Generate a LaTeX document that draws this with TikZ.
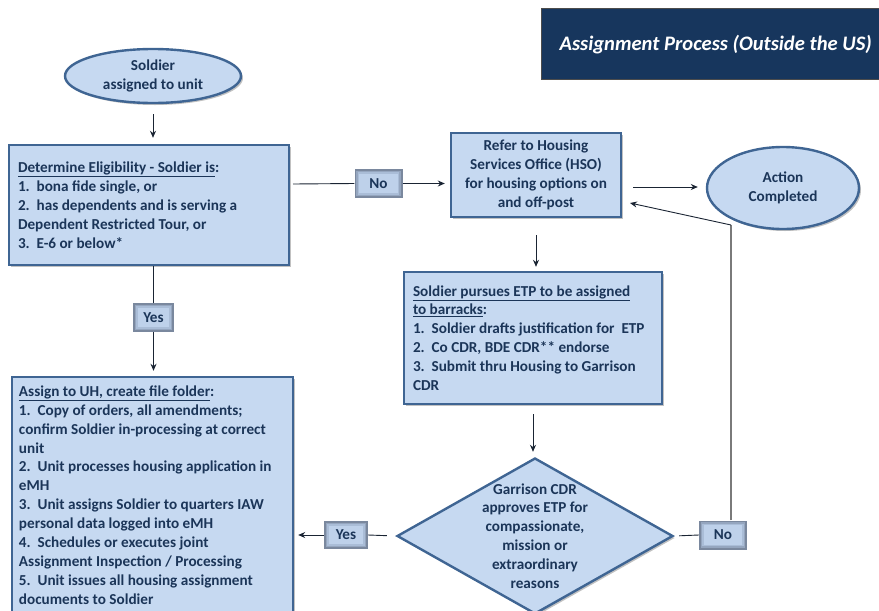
\documentclass[tikz,border=0pt]{standalone}
\usepackage{fontspec}
\setmainfont{Carlito}
\usetikzlibrary{arrows.meta,shapes.geometric,shadows}

\definecolor{boxfill}{HTML}{C6D9F1}
\definecolor{boxline}{HTML}{3F6593}
\definecolor{inktext}{HTML}{1B3558}
\definecolor{tagedge}{HTML}{7A889E}
\definecolor{tagmid}{HTML}{95A6BF}
\definecolor{tagsoft}{HTML}{AABDD7}
\definecolor{tagcore}{HTML}{BED1EA}
\definecolor{titlefill}{HTML}{17365D}
\definecolor{wire}{HTML}{1A2433}
\definecolor{greywire}{HTML}{7A7A7A}

\tikzset{
  txt/.style={font=\fontsize{15.2}{18.9}\selectfont\bfseries, text=inktext},
  shade/.style={drop shadow={shadow xshift=2pt, shadow yshift=-2pt,
    opacity=0.35, fill=black!70}},
  flowbox/.style={txt, draw=boxline, line width=2.4pt, fill=boxfill, shade,
    rectangle, inner sep=0pt},
  listtext/.style={txt, align=left, anchor=west, inner sep=0pt},
  oval/.style={txt, draw=boxline, line width=2.4pt, fill=boxfill, ellipse, shade,
    inner sep=0pt, align=center},
  tag/.style={txt, fill=tagedge, rectangle, inner sep=0pt,
    minimum width=46pt, minimum height=28pt,
    path picture={
      \foreach \d/\c in {1.6/tagmid, 3.2/tagsoft, 4.8/tagcore}
        \fill[\c] ([shift={(\d pt,-\d pt)}]path picture bounding box.north west)
          rectangle ([shift={(-\d pt,\d pt)}]path picture bounding box.south east);
    }},
  arr/.style={draw=wire, line width=0.9pt, -{Stealth[length=7pt,width=6pt]}},
  plain/.style={draw=wire, line width=0.9pt},
}

\begin{document}
\begin{tikzpicture}[x=1pt, y=-1pt]
\useasboundingbox (0,0) rectangle (879,611);
\clip (0,0) rectangle (879,611);

% title banner
\node[draw=black!70, line width=0.8pt, fill=titlefill, minimum width=350pt,
      minimum height=71pt, anchor=north west, inner sep=0pt] (title) at (541,8) {};
\node[font=\fontsize{20.6}{24}\selectfont\bfseries\itshape, text=white, anchor=west]
      (titletext) at (556,45) {Assignment Process (Outside the US)};

% start and end ovals
\node[oval, minimum width=176pt, minimum height=54pt] (sold) at (153,76)
      {Soldier\\assigned to unit};
\node[oval, minimum width=152pt, minimum height=82pt] (act) at (783,188)
      {Action\\Completed};

% eligibility check
\node[flowbox, minimum width=280pt, minimum height=120pt] (det) at (149,205) {};
\node[listtext] (dettext) at ([xshift=10pt]det.west)
      {\underline{Determine Eligibility - Soldier is}:\\
       1.\ \ bona fide single, or\\
       2.\ \ has dependents and is serving a\\
       Dependent Restricted Tour, or\\
       3.\ \ E-6 or below*};

% housing services office
\node[flowbox, minimum width=170pt, minimum height=84pt, align=center] (hso) at (536,175)
      {Refer to Housing\\Services Office (HSO)\\for housing options on\\and off-post};

% exception to policy
\node[flowbox, minimum width=258pt, minimum height=132pt] (etp) at (533,338) {};
\node[listtext] (etptext) at ([xshift=10pt]etp.west)
      {\underline{Soldier pursues ETP to be assigned}\\
       \underline{to barracks}:\\
       1.\ \ Soldier drafts justification for\ \ ETP\\
       2.\ \ Co CDR, BDE CDR** endorse\\
       3.\ \ Submit thru Housing to Garrison\\
       CDR};

% unaccompanied housing assignment
\node[flowbox, minimum width=281pt, minimum height=236pt] (asg) at (152.5,495) {};
\node[listtext] (asgtext) at ([xshift=8pt]asg.west)
      {\underline{Assign to UH, create file folder}:\\
       1.\ \ Copy of orders, all amendments;\\
       confirm Soldier in-processing at correct\\
       unit\\
       2.\ \ Unit processes housing application in\\
       eMH\\
       3.\ \ Unit assigns Soldier to quarters IAW\\
       personal data logged into eMH\\
       4.\ \ Schedules or executes joint\\
       Assignment Inspection / Processing\\
       5.\ \ Unit issues all housing assignment\\
       documents to Soldier};

% garrison commander decision
\node[diamond, draw=boxline, line width=2.4pt, fill=boxfill, inner sep=0pt,
      minimum width=276pt, minimum height=156pt, shade] (gar) at (535,536) {};
\node[txt, align=center] (gartext) at (gar.center)
      {Garrison CDR\\approves ETP for\\compassionate,\\mission or\\extraordinary\\reasons};

% yes / no tags
\node[tag, minimum width=48pt, minimum height=29pt] (no1) at (378.5,183.5) {No};
\node[tag, minimum width=41pt, minimum height=29pt] (yes1) at (153.5,317.5) {Yes};
\node[tag, minimum width=44pt, minimum height=28pt] (yes2) at (346,535) {Yes};
\node[tag, minimum width=48pt, minimum height=29pt] (no2) at (723,535) {No};

% connector anchors
\coordinate (detout) at (293,184);
\coordinate (hsoout) at (633,187);
\coordinate (bend) at (731,225);
\coordinate (hsoin) at (630,203);

% connectors
\draw[arr, shorten <=10pt, shorten >=6pt] (sold.south) -- (sold.south |- det.north);
\draw[plain] (detout) -- (no1.west);
\draw[arr, shorten >=5pt] (no1.east) -- (hso.west |- no1.east);
\draw[arr, shorten >=8pt] (hsoout) -- (act.west |- hsoout);
\draw[arr, shorten <=17pt, shorten >=4pt] (hso.south) -- (hso.south |- etp.north);
\draw[arr, shorten <=9pt, shorten >=5pt] (etp.south) -- (etp.south |- gar.north);
\draw[plain] (det.south -| yes1.north) -- (yes1.north);
\draw[arr, shorten >=5pt] (yes1.south) -- (yes1.south |- asg.north);
\draw[plain, shorten <=9pt] (gar.west) -- (yes2.east);
\draw[arr, shorten >=4pt] (yes2.west) -- (asg.east |- yes2.west);
\draw[plain, shorten <=5pt] (gar.east) -- (no2.west);
\draw[draw=greywire, line width=1.2pt] (no2.north -| bend) -- (bend);
\draw[arr] (bend) -- (hsoin);
\end{tikzpicture}
\end{document}
